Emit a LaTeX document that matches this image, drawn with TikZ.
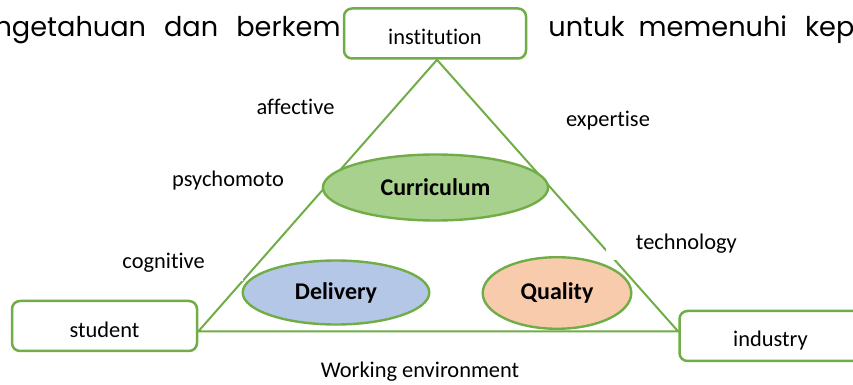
\documentclass[tikz,border=0pt]{standalone}
\usepackage{fontspec}
\setmainfont[Ligatures=NoCommon]{Carlito}
\newfontfamily\bgfont{Poppins}
\usetikzlibrary{shapes.geometric}
\definecolor{officegreen}{HTML}{70AD47}
\definecolor{curriculumgreen}{HTML}{A9D18E}
\definecolor{deliveryblue}{HTML}{B4C7E7}
\definecolor{qualityorange}{HTML}{F8CBAD}
\tikzset{
  box/.style={
    rectangle,
    rounded corners=4pt,
    draw=officegreen,
    line width=1.25pt,
    fill=white,
    minimum width=91pt,
    minimum height=25pt,
    inner sep=0pt,
    text height=11pt,
    text depth=0pt,
    font=\fontsize{11.2}{13}\selectfont
  },
  blob/.style={
    ellipse,
    draw=officegreen,
    line width=1.2pt,
    inner sep=0pt,
    font=\fontsize{12}{14}\selectfont\bfseries
  },
  lbl/.style={inner sep=0pt, font=\fontsize{11.2}{13}\selectfont}
}
\tikzstyle{side} = [draw=officegreen, line width=1pt]
\def\bgtext#1{{\bgfont\fontsize{13.6}{16}\selectfont #1}}

\begin{document}
\begin{tikzpicture}[x=0.5pt, y=-0.5pt]
    \useasboundingbox (0,0) rectangle (853,385);
    \node[anchor=base east, inner sep=0pt] (bgleft) at (341,37) {\bgtext{ngetahuan\hspace{9pt}dan\hspace{9pt}berkem}};
    \node[anchor=base west, inner sep=0pt] (bgright) at (548,37) {\bgtext{untuk\hspace{7pt}memenuhi\hspace{9pt}kep}};
    \node[box] (institution) at (435,33.5) {institution};
    \node[box, minimum width=92.5pt] (student) at (104.5,326) {student};
    \node[box] (industry) at (770.5,336) {industry};
    \coordinate (apex) at ([xshift=1pt]institution.south);
    \coordinate (west) at ([yshift=-2.75pt]student.east);
    \coordinate (east) at ([yshift=2.25pt]industry.west);
    \draw[side] (apex) -- (west) -- (east) -- cycle;
    \node[blob, fill=curriculumgreen, minimum width=112.6pt, minimum height=33pt] (curriculum) at (435.5,187.5) {Curriculum};
    \node[blob, fill=deliveryblue, minimum width=93.3pt, minimum height=32pt] (delivery) at (336,292.5) {Delivery};
    \node[blob, fill=qualityorange, minimum width=74.3pt, minimum height=35.8pt] (quality) at (557,293) {Quality};
    \node[lbl, anchor=base] (affective) at (295.5,115) {affective};
    \node[lbl, anchor=base] (psychomoto) at (228,186.5) {psychomoto};
    \node[lbl, fill=white, anchor=south east, minimum width=79pt, minimum height=18pt] (cognitive) at (243,281) {cognitive};
    \node[lbl, anchor=base] (expertise) at (608,126.5) {expertise};
    \node[lbl, fill=white, anchor=south west, minimum width=80pt, minimum height=16pt] (technology) at (606,260) {technology};
    \node[lbl, anchor=base] (working) at (420,378) {Working environment};
\end{tikzpicture}
\end{document}
